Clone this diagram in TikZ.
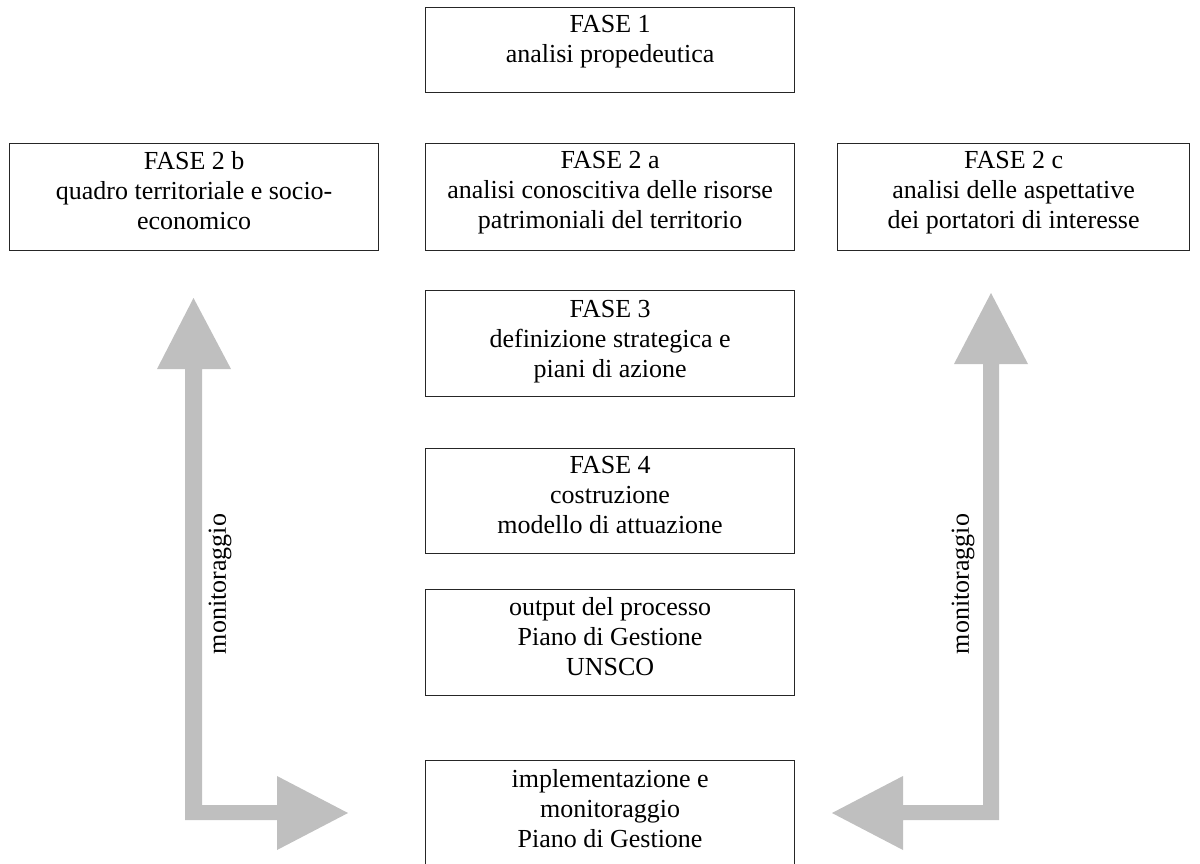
\documentclass[tikz,border=0pt]{standalone}
\usepackage{fontspec}
\setmainfont{Liberation Serif}
\begin{document}
\begin{tikzpicture}[x=0.5pt,y=-0.5pt,
  box/.style={draw=black!85, line width=0.6pt, rectangle, anchor=north west, inner sep=0pt, minimum width=184.5pt},
  txt/.style={align=center, anchor=north, inner sep=0pt, font=\fontsize{13}{15}\selectfont},
  gar/.style={fill=black!25, draw=none},
  mon/.style={rotate=90, inner sep=0pt, font=\fontsize{13}{15}\selectfont}]
\useasboundingbox (0,0) rectangle (1200,863);
\clip (0,0) rectangle (1200,863);
% gray block arrows
\fill[gar] (185,369) -- (157,369) -- (193.5,298) -- (231,369) -- (202,369) -- (202,805) -- (277,805) -- (277,776) -- (348,813) -- (277,850) -- (277,820) -- (185,820) -- cycle;
\fill[gar] (983,364) -- (954,364) -- (991,293) -- (1028,364) -- (999,364) -- (999,820) -- (903,820) -- (903,850) -- (832,813) -- (903,776) -- (903,805) -- (983,805) -- cycle;
% boxes
\node[box, minimum height=42.5pt] (f1) at (425,7) {};
\node[box, minimum height=53.5pt] (f2b) at (9,143) {};
\node[box, minimum height=53.5pt] (f2a) at (425,143) {};
\node[box, minimum height=53.5pt, minimum width=176pt] (f2c) at (837,143) {};
\node[box, minimum height=53pt] (f3) at (425,290) {};
\node[box, minimum height=52.5pt] (f4) at (425,448) {};
\node[box, minimum height=53pt] (out) at (425,589) {};
\node[box, minimum height=65pt] (impl) at (425,760) {};
% texts
\node[txt] (t1) at ([yshift=-4pt]f1.north) {FASE 1\\analisi propedeutica};
\node[txt] (t2b) at ([yshift=-4pt]f2b.north) {FASE 2 b\\quadro territoriale e socio-\\economico};
\node[txt] (t2a) at ([yshift=-4pt]f2a.north) {FASE 2 a\\analisi conoscitiva delle risorse\\patrimoniali del territorio};
\node[txt] (t2c) at ([yshift=-4pt]f2c.north) {FASE 2 c\\analisi delle aspettative\\dei portatori di interesse};
\node[txt] (t3) at ([yshift=-5pt]f3.north) {FASE 3\\definizione strategica e\\piani di azione};
\node[txt] (t4) at ([yshift=-4pt]f4.north) {FASE 4\\costruzione\\modello di attuazione};
\node[txt] (tout) at ([yshift=-4pt]out.north) {output del processo\\Piano di Gestione\\UNSCO};
\node[txt] (timpl) at ([yshift=-4.5pt]impl.north) {implementazione e\\monitoraggio\\Piano di Gestione};
% side labels
\node[mon] (m1) at (220,584) {monitoraggio};
\node[mon] (m2) at (963,584) {monitoraggio};
\end{tikzpicture}
\end{document}
